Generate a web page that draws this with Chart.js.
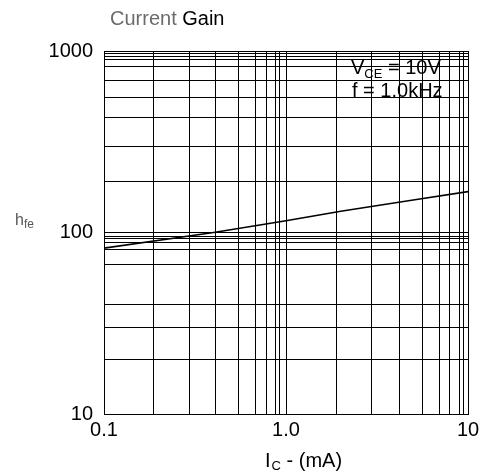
<!DOCTYPE html>
<html><head><meta charset="utf-8">
<script src="https://cdn.jsdelivr.net/npm/chart.js@4"></script>
<style>html,body{margin:0;padding:0;background:#fff}#wrap{width:491px;height:476px}</style>
</head><body><div id="wrap"><canvas id="c" width="491" height="476"></canvas></div>
<script>
const currentMA = [0.1, 0.4, 1.0, 2.0, 5.0, 10];
const hfe = [82, 100, 116, 131, 151, 168];
const xGrid = [0.1, 0.186, 0.295, 0.41, 0.55, 0.68, 0.78, 0.88, 0.92, 1.0, 1.9, 2.96, 4.18, 5.59, 7.0, 7.96, 8.93, 9.5, 10];
const yGrid = [10, 20, 30, 40, 66.5, 81, 88.6, 92.5, 95.6, 100, 191, 298, 428, 555, 685, 818, 894, 937, 967, 1000];
const xLabels = {0.1: '0.1', 1: '1.0', 10: '10'};
const yLabels = {10: '10', 100: '100', 1000: '1000'};

const F = '"Liberation Sans", Arial, sans-serif';
const textPlugin = {
  id: 'texts',
  afterDraw(chart) {
    const ctx = chart.ctx;
    ctx.save();
    ctx.textBaseline = 'alphabetic';
    ctx.textAlign = 'left';
    ctx.font = '20px ' + F;
    ctx.fillStyle = '#6b6b6b';
    ctx.fillText('Current ', 110, 25);
    const w = ctx.measureText('Current ').width;
    ctx.fillStyle = '#000';
    ctx.fillText('Gain', 110 + w, 25);
    // VCE annotation
    ctx.font = '20px ' + F;
    ctx.fillText('V', 351, 74);
    let vw = ctx.measureText('V').width;
    ctx.font = '13px ' + F;
    ctx.fillText('CE', 351 + vw, 78);
    let cw = ctx.measureText('CE').width;
    ctx.font = '20px ' + F;
    ctx.fillText(' = 10V', 351 + vw + cw, 74);
    ctx.fillText('f = 1.0kHz', 352, 97);
    // y axis label
    ctx.fillStyle = '#555';
    ctx.font = '16px ' + F;
    ctx.fillText('h', 15, 225);
    const hw = ctx.measureText('h').width;
    ctx.font = '12px ' + F;
    ctx.fillText('fe', 15 + hw, 228);
    // x axis title
    ctx.fillStyle = '#000';
    ctx.font = '20px ' + F;
    ctx.fillText('I', 265, 467);
    const iw = ctx.measureText('I').width;
    ctx.font = '13px ' + F;
    ctx.fillText('C', 265 + iw + 1, 470);
    const cw2 = ctx.measureText('C').width;
    ctx.font = '20px ' + F;
    ctx.fillText(' - (mA)', 265 + iw + 1 + cw2, 467);
    ctx.restore();
  }
};

new Chart(document.getElementById('c'), {
  type: 'line',
  data: {
    datasets: [{
      data: currentMA.map((x, i) => ({x: x, y: hfe[i]})),
      borderColor: '#000', borderWidth: 1.6, pointRadius: 0, tension: 0, fill: false
    }]
  },
  options: {
    responsive: false, animation: false, devicePixelRatio: 1,
    layout: {padding: {top: 51, right: 23, left: 0, bottom: 0}},
    plugins: {legend: {display: false}, tooltip: {enabled: false}, title: {display: false}},
    scales: {
      x: {
        type: 'logarithmic', min: 0.1, max: 10,
        afterBuildTicks: s => { s.ticks = xGrid.map(v => ({value: v})); },
        afterFit: s => { s.height = 476 - 414; },
        border: {color: '#000', width: 1},
        grid: {color: '#000', lineWidth: 1, drawTicks: false},
        ticks: {autoSkip: false, maxRotation: 0, padding: 4, color: '#000',
          font: {family: F, size: 20},
          callback: v => xLabels[v] !== undefined ? xLabels[v] : ''}
      },
      y: {
        type: 'logarithmic', min: 10, max: 1000,
        afterBuildTicks: s => { s.ticks = yGrid.map(v => ({value: v})); },
        afterFit: s => { s.width = 104; },
        border: {color: '#000', width: 1},
        grid: {color: '#000', lineWidth: 1, drawTicks: false},
        ticks: {autoSkip: false, padding: 11, color: '#000',
          font: {family: F, size: 20},
          callback: v => yLabels[v] !== undefined ? yLabels[v] : ''}
      }
    }
  },
  plugins: [textPlugin]
});
</script></body></html>
